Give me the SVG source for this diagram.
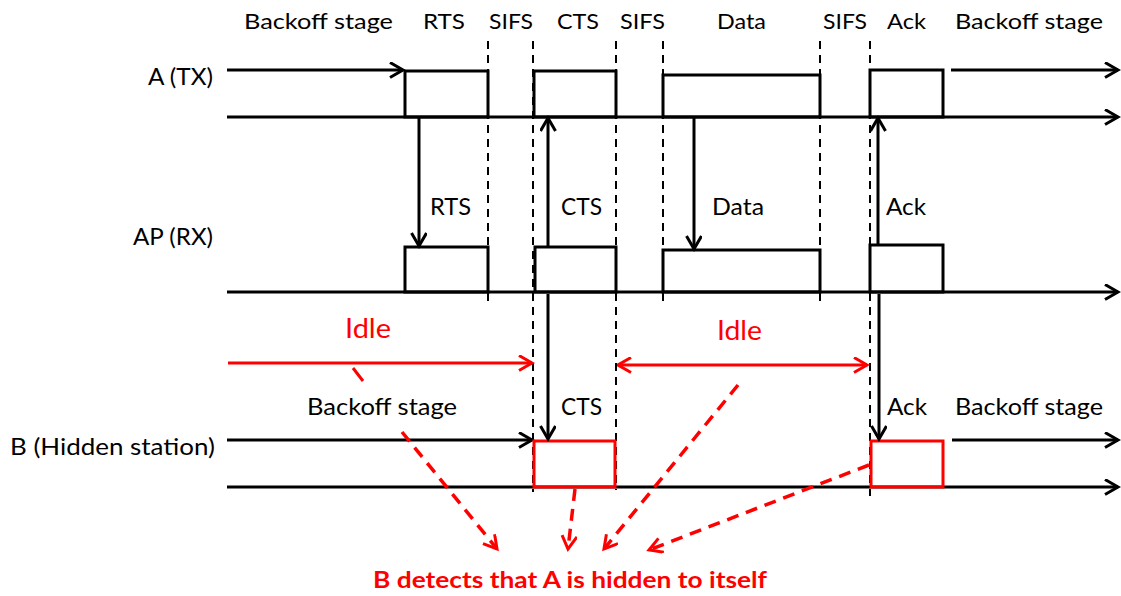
<svg xmlns="http://www.w3.org/2000/svg" width="1121" height="596" viewBox="0 0 1121 596">
  <style>
    text { font-family: Lato, "Open Sans", "Liberation Sans", sans-serif; fill: #000; }
    .top { font-size: 22px; }
    .mid { font-size: 23px; }
    .side { font-size: 24px; }
    .idle { font-size: 26px; fill: #ff0000; }
    .note { font-size: 22px; font-weight: bold; fill: #ff0000; }
    .axis { stroke: #000; stroke-width: 3; fill: none; }
    .frame { stroke: #000; stroke-width: 3; fill: none; }
    .frame-red { stroke: #ff0000; stroke-width: 3; fill: none; }
    .guide { stroke: #000; stroke-width: 2; stroke-dasharray: 8 6; fill: none; }
    .sig { stroke: #000; stroke-width: 3; fill: none; }
    .idle-line { stroke: #ff0000; stroke-width: 3; fill: none; }
    .hint { stroke: #ff0000; stroke-width: 3.5; stroke-dasharray: 12 8; fill: none; }
  </style>
  <defs>
    <marker id="ah" markerUnits="userSpaceOnUse" markerWidth="18" markerHeight="18" refX="14" refY="8" orient="auto">
      <path d="M1,0.5 L14,8 L1,15.5" fill="none" stroke="#000" stroke-width="3"/>
    </marker>
    <marker id="ah-red" markerUnits="userSpaceOnUse" markerWidth="18" markerHeight="18" refX="14" refY="8" orient="auto">
      <path d="M1,0.5 L14,8 L1,15.5" fill="none" stroke="#ff0000" stroke-width="3"/>
    </marker>
    <marker id="ah-red-start" markerUnits="userSpaceOnUse" markerWidth="18" markerHeight="18" refX="1" refY="8" orient="auto">
      <path d="M14,0.5 L1,8 L14,15.5" fill="none" stroke="#ff0000" stroke-width="3"/>
    </marker>
  </defs>

  <rect width="1121" height="596" fill="#fff"/>

  <!-- frame boundary guides -->
  <g id="guides">
    <line class="guide" x1="488" y1="41" x2="488" y2="306"/>
    <line class="guide" x1="533" y1="41" x2="533" y2="492"/>
    <line class="guide" x1="616" y1="41" x2="616" y2="490"/>
    <line class="guide" x1="663" y1="41" x2="663" y2="306"/>
    <line class="guide" x1="820" y1="41" x2="820" y2="306"/>
    <line class="guide" x1="870" y1="41" x2="870" y2="496"/>
  </g>

  <!-- interval labels -->
  <g id="timing-labels">
    <text class="top" x="244" y="29" textLength="149" lengthAdjust="spacingAndGlyphs">Backoff stage</text>
    <text class="top" x="423" y="29" textLength="42" lengthAdjust="spacingAndGlyphs">RTS</text>
    <text class="top" x="489" y="29" textLength="44" lengthAdjust="spacingAndGlyphs">SIFS</text>
    <text class="top" x="557" y="29" textLength="42" lengthAdjust="spacingAndGlyphs">CTS</text>
    <text class="top" x="620" y="29" textLength="45" lengthAdjust="spacingAndGlyphs">SIFS</text>
    <text class="top" x="717" y="29" textLength="49" lengthAdjust="spacingAndGlyphs">Data</text>
    <text class="top" x="823" y="29" textLength="44" lengthAdjust="spacingAndGlyphs">SIFS</text>
    <text class="top" x="887" y="29" textLength="39" lengthAdjust="spacingAndGlyphs">Ack</text>
    <text class="top" x="955" y="29" textLength="148" lengthAdjust="spacingAndGlyphs">Backoff stage</text>
  </g>

  <!-- station A -->
  <g id="row-a">
    <text class="side" x="148" y="85" textLength="65" lengthAdjust="spacingAndGlyphs">A (TX)</text>
    <line class="axis" x1="227" y1="117" x2="1118" y2="117" marker-end="url(#ah)"/>
    <line class="sig" x1="227" y1="70" x2="403" y2="70" marker-end="url(#ah)"/>
    <line class="sig" x1="951" y1="70" x2="1118" y2="70" marker-end="url(#ah)"/>
  </g>
  <g id="a-rts"><rect class="frame" x="405" y="71" width="83" height="46"/></g>
  <g id="a-cts"><rect class="frame" x="534" y="71" width="82" height="46"/></g>
  <g id="a-data"><rect class="frame" x="663" y="75" width="157" height="42"/></g>
  <g id="a-ack"><rect class="frame" x="870" y="70" width="73" height="47"/></g>

  <!-- access point -->
  <g id="row-ap">
    <text class="side" x="133" y="245" textLength="80" lengthAdjust="spacingAndGlyphs">AP (RX)</text>
    <line class="axis" x1="227" y1="292" x2="1118" y2="292" marker-end="url(#ah)"/>
  </g>
  <g id="ap-rts"><rect class="frame" x="405" y="247" width="83" height="45"/></g>
  <g id="ap-cts"><rect class="frame" x="535" y="247" width="81" height="45"/></g>
  <g id="ap-data"><rect class="frame" x="663" y="250" width="157" height="42"/></g>
  <g id="ap-ack"><rect class="frame" x="870" y="245" width="73" height="47"/></g>

  <!-- hidden station B -->
  <g id="row-b">
    <text class="side" x="10" y="455" textLength="205" lengthAdjust="spacingAndGlyphs">B (Hidden station)</text>
    <line class="axis" x1="227" y1="487" x2="1118" y2="487" marker-end="url(#ah)"/>
    <line class="sig" x1="227" y1="440" x2="532" y2="440" marker-end="url(#ah)"/>
    <line class="sig" x1="952" y1="440" x2="1118" y2="440" marker-end="url(#ah)"/>
    <text class="mid" x="307" y="415" textLength="150" lengthAdjust="spacingAndGlyphs">Backoff stage</text>
    <text class="mid" x="955" y="415" textLength="148" lengthAdjust="spacingAndGlyphs">Backoff stage</text>
  </g>
  <g id="b-cts"><rect class="frame-red" x="534" y="441" width="81" height="46"/></g>
  <g id="b-ack"><rect class="frame-red" x="871" y="441" width="72" height="46"/></g>

  <!-- idle periods sensed by B -->
  <g id="idle-1">
    <text class="idle" x="345" y="338" textLength="46" lengthAdjust="spacingAndGlyphs">Idle</text>
    <line class="idle-line" x1="228" y1="363" x2="532" y2="363" marker-end="url(#ah-red)"/>
  </g>
  <g id="idle-2">
    <text class="idle" x="717" y="340" textLength="45" lengthAdjust="spacingAndGlyphs">Idle</text>
    <line class="idle-line" x1="618" y1="365" x2="867" y2="365" marker-start="url(#ah-red-start)" marker-end="url(#ah-red)"/>
  </g>

  <!-- transmissions between stations -->
  <g id="connectors">
    <line class="sig" x1="419" y1="118" x2="419" y2="246" marker-end="url(#ah)"/>
    <line class="sig" x1="548" y1="247" x2="548" y2="118" marker-end="url(#ah)"/>
    <line class="sig" x1="694" y1="118" x2="694" y2="249" marker-end="url(#ah)"/>
    <line class="sig" x1="878" y1="245" x2="878" y2="118" marker-end="url(#ah)"/>
    <line class="sig" x1="548" y1="294" x2="548" y2="439" marker-end="url(#ah)"/>
    <line class="sig" x1="879" y1="294" x2="879" y2="439" marker-end="url(#ah)"/>
    <text class="mid" x="430" y="215" textLength="41" lengthAdjust="spacingAndGlyphs">RTS</text>
    <text class="mid" x="561" y="215" textLength="41" lengthAdjust="spacingAndGlyphs">CTS</text>
    <text class="mid" x="712" y="215" textLength="52" lengthAdjust="spacingAndGlyphs">Data</text>
    <text class="mid" x="886" y="215" textLength="40" lengthAdjust="spacingAndGlyphs">Ack</text>
    <text class="mid" x="561" y="415" textLength="41" lengthAdjust="spacingAndGlyphs">CTS</text>
    <text class="mid" x="887" y="415" textLength="40" lengthAdjust="spacingAndGlyphs">Ack</text>

    <!-- pointers to the conclusion -->
    <line class="idle-line" x1="353" y1="368" x2="363" y2="381"/>
    <line class="hint" x1="402" y1="432" x2="497" y2="549" marker-end="url(#ah-red)"/>
    <line class="hint" x1="575" y1="489" x2="568" y2="549" marker-end="url(#ah-red)"/>
    <line class="hint" x1="738" y1="385" x2="604" y2="549" marker-end="url(#ah-red)"/>
    <line class="hint" x1="869" y1="465" x2="649" y2="550" marker-end="url(#ah-red)"/>
  </g>

  <g id="note">
    <text class="note" x="373" y="588" textLength="394" lengthAdjust="spacingAndGlyphs">B detects that A is hidden to itself</text>
  </g>
</svg>
